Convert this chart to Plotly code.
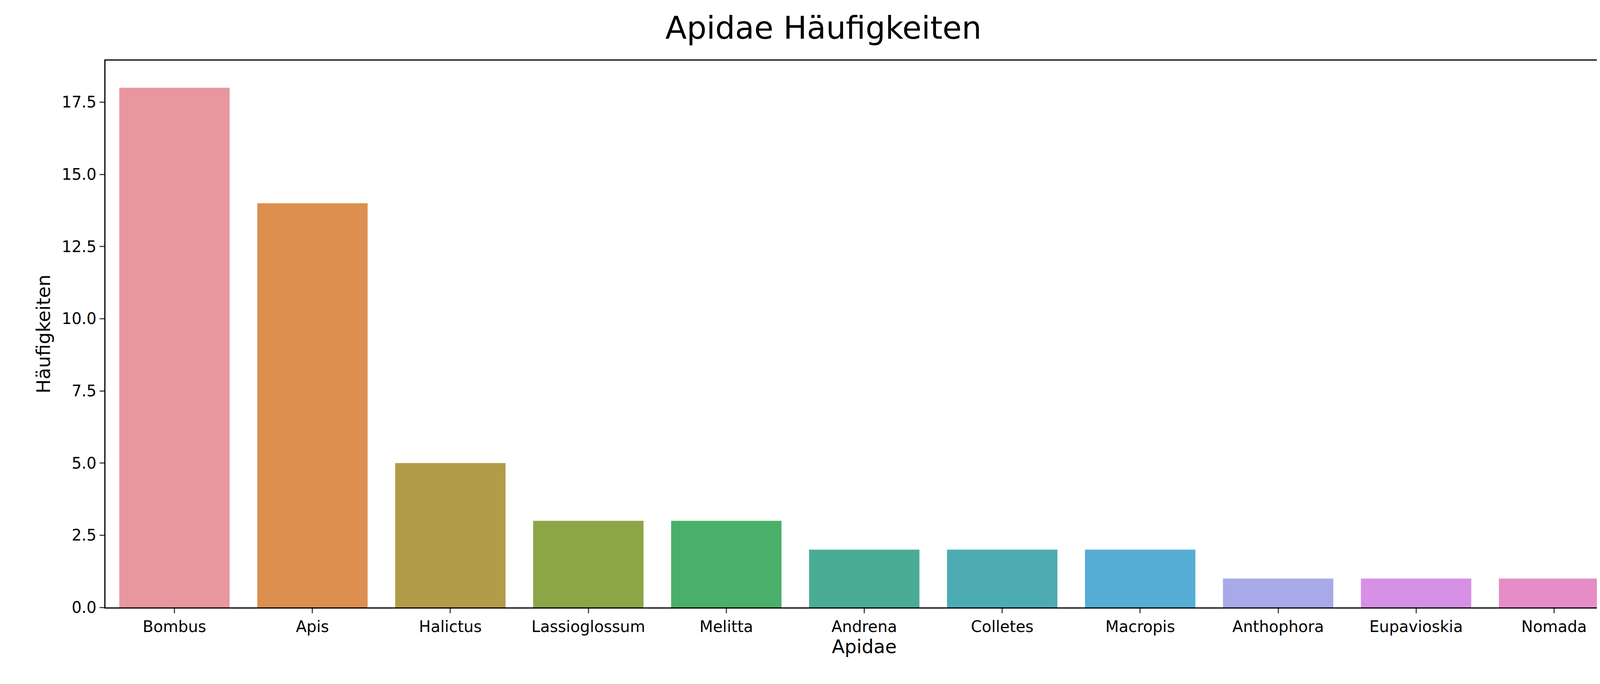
import plotly.graph_objects as go

genera = ["Bombus", "Apis", "Halictus", "Lassioglossum", "Melitta", "Andrena",
          "Colletes", "Macropis", "Anthophora", "Eupavioskia", "Nomada"]
counts = [18, 14, 5, 3, 3, 2, 2, 2, 1, 1, 1]
colors = ["#e8979f", "#dc8f4e", "#b39c48", "#8ca547", "#4aaf68", "#4aab96",
          "#4cabb3", "#55acd4", "#a8a9e8", "#d691e6", "#e68dc7"]
ytick_vals = [0, 2.5, 5, 7.5, 10, 12.5, 15, 17.5]
ytick_text = ["0.0", "2.5", "5.0", "7.5", "10.0", "12.5", "15.0", "17.5"]

fig = go.Figure(go.Bar(x=genera, y=counts, marker_color=colors, width=0.8,
                       marker_line_width=0))
font = "DejaVu Sans"
fig.update_layout(
    width=4200, height=1750, plot_bgcolor="white", paper_bgcolor="white",
    margin=dict(l=262, r=53, t=147, b=204),
    font=dict(family=font, size=40, color="black"),
    title=dict(text="Apidae Häufigkeiten", x=0.5, xanchor="center", y=0.98,
               yanchor="top", font=dict(size=80)),
    bargap=0.2, showlegend=False,
)
fig.update_xaxes(title_text="Apidae", showline=True, mirror=True, linecolor="black",
                 linewidth=3, ticks="outside", ticklen=12, tickwidth=3,
                 range=[-0.5, 10.5], title_standoff=10)
fig.update_yaxes(title_text="Häufigkeiten", showline=True, mirror=True, linecolor="black",
                 linewidth=3, ticks="outside", ticklen=12, tickwidth=3,
                 range=[0, 18.94], tickvals=ytick_vals, ticktext=ytick_text,
                 showgrid=False, zeroline=False, title_standoff=15)
fig.write_html("out.html")
